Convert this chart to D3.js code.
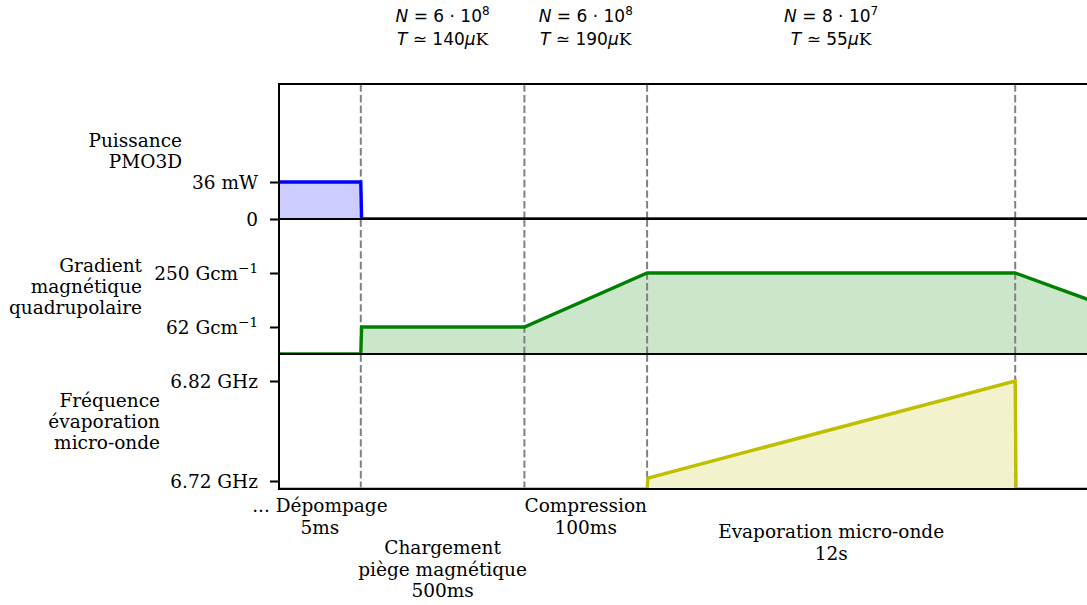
<!DOCTYPE html>
<html>
<head>
<meta charset="utf-8">
<script src="https://cdn.jsdelivr.net/npm/d3@7"></script>
<style>
  body { margin: 0; background: #fff; }
  svg { display: block; }
  .serif { font-family: "DejaVu Serif", serif; font-size: 18.5px; fill: #000; }
  .math { font-family: "DejaVu Sans", sans-serif; font-size: 17px; fill: #000; }
</style>
</head>
<body>
<svg id="chart" width="1087" height="605"></svg>
<script>
// Sequence timing diagram (schematic time axis, one unit per phase slot)

// phase boundaries, drawn as dashed lines
var phaseBounds = [1, 3, 4.5, 9];

// phase names under the plot, and their centre on the time axis
var phaseNames = [
  ["... Dépompage", "5ms"],
  ["Chargement", "piège magnétique", "500ms"],
  ["Compression", "100ms"],
  ["Evaporation micro-onde", "12s"]
];
var phaseCenters = [0.5, 2, 3.75, 6.75];

// atom number and temperature reached at the end of some phases
var atomPhase = [1, 2, 3];
var atomMantissa = ["6", "6", "8"];
var atomExponent = ["8", "8", "7"];
var atomTemp = ["140", "190", "55"];

// 3D-MOT power (1 = 36 mW)
var powerTime = [0, 1, 1.01, 10];
var powerValue = [1, 1, 0, 0];
var powerTicks = [0, 1];
var powerTickLabels = ["0", "36 mW"];

// quadrupole gradient (1 = 62 G/cm, 3 = 250 G/cm)
var gradientTime = [0, 1, 1.01, 3, 4.5, 9, 10];
var gradientValue = [0, 0, 1, 1, 3, 3, 1.9];
var gradientTicks = [1, 3];
var gradientTickLabels = ["62 Gcm", "250 Gcm"];

// microwave evaporation frequency, GHz
var freqTime = [0, 4.5, 4.51, 9, 9.01, 10];
var freqValue = [6.712, 6.712, 6.723, 6.82, 6.712, 6.712];
var freqTicks = [6.72, 6.82];
var freqTickLabels = ["6.72 GHz", "6.82 GHz"];

var svg = d3.select("#chart");

var left = 279, right = 1097, panelH = 135;

var x = d3.scaleLinear().domain([0, 10]).range([left, right]);

var panels = [
  { top: 84, domain: [0, 3.65], time: powerTime, value: powerValue,
    ticks: powerTicks, labels: powerTickLabels, sup: false,
    color: "#0000ff", fill: "#ccccff",
    title: ["Puissance", "PMO3D"], titleX: 182 },
  { top: 219, domain: [0, 5], time: gradientTime, value: gradientValue,
    ticks: gradientTicks, labels: gradientTickLabels, sup: true,
    color: "#008000", fill: "#cce6cc",
    title: ["Gradient", "magnétique", "quadrupolaire"], titleX: 142 },
  { top: 354, domain: [6.712, 6.847], time: freqTime, value: freqValue,
    ticks: freqTicks, labels: freqTickLabels, sup: false,
    color: "#bfbf00", fill: "#f2f2cc",
    title: ["Fréquence", "évaporation", "micro-onde"], titleX: 160 }
];

panels.forEach(function(p, i) {
  var y = d3.scaleLinear().domain(p.domain).range([p.top + panelH, p.top]);
  var pts = p.time.map(function(t, k) { return [t, p.value[k]]; });

  svg.append("clipPath").attr("id", "clip" + i)
    .append("rect")
    .attr("x", left).attr("y", p.top)
    .attr("width", right - left).attr("height", panelH);

  var g = svg.append("g").attr("clip-path", "url(#clip" + i + ")");

  var area = d3.area()
    .x(function(d) { return x(d[0]); })
    .y0(y(p.domain[0]))
    .y1(function(d) { return y(d[1]); });
  var line = d3.line()
    .x(function(d) { return x(d[0]); })
    .y(function(d) { return y(d[1]); });

  g.append("path").datum(pts)
    .attr("d", area)
    .attr("fill", p.fill);

  // phase separators
  g.selectAll("line.sep")
    .data(phaseBounds)
    .enter().append("line")
    .attr("class", "sep")
    .attr("x1", function(d) { return x(d); })
    .attr("x2", function(d) { return x(d); })
    .attr("y1", p.top + panelH)
    .attr("y2", p.top)
    .attr("stroke", "#808080")
    .attr("stroke-width", 2)
    .attr("stroke-dasharray", "7.4,3.2");

  g.append("path").datum(pts)
    .attr("d", line)
    .attr("fill", "none")
    .attr("stroke", p.color)
    .attr("stroke-width", 3.4)
    .attr("stroke-linejoin", "miter");

  // y axis with custom labels
  var axis = d3.axisLeft(y)
    .tickValues(p.ticks)
    .tickSize(9)
    .tickPadding(12)
    .tickFormat("");
  var ax = svg.append("g")
    .attr("transform", "translate(" + left + ",0)")
    .call(axis);
  ax.select(".domain").remove();
  ax.selectAll(".tick line").attr("stroke", "#000").attr("stroke-width", 2);
  ax.selectAll(".tick text").each(function(d, k) {
    var t = d3.select(this)
      .attr("class", "serif")
      .attr("font-family", null)
      .attr("font-size", null)
      .attr("dy", "0.34em")
      .text(p.labels[k]);
    if (p.sup) {
      t.append("tspan")
        .attr("dy", "-0.5em")
        .style("font-size", "13.5px")
        .text("\u22121");
    }
  });

  // spines
  svg.append("rect")
    .attr("x", left).attr("y", p.top)
    .attr("width", right - left).attr("height", panelH)
    .attr("fill", "none")
    .attr("stroke", "#000")
    .attr("stroke-width", 2);

  // panel title
  var n = p.title.length;
  var title = svg.append("text")
    .attr("class", "serif")
    .attr("text-anchor", "end")
    .attr("x", p.titleX)
    .attr("y", p.top + panelH / 2 - (n - 1) * 10.5 + 6);
  title.selectAll("tspan")
    .data(p.title)
    .enter().append("tspan")
    .attr("x", p.titleX)
    .attr("dy", function(d, k) { return k ? 21 : 0; })
    .text(function(d) { return d; });
});

// phase names under the plot, second one staggered below
var nameTop = [506, 548, 506, 532];
phaseNames.forEach(function(lines, i) {
  var t = svg.append("text")
    .attr("class", "serif")
    .attr("text-anchor", "middle")
    .attr("y", nameTop[i] + 6);
  t.selectAll("tspan")
    .data(lines)
    .enter().append("tspan")
    .attr("x", x(phaseCenters[i]))
    .attr("dy", function(d, k) { return k ? 21.5 : 0; })
    .text(function(d) { return d; });
});

// N and T annotations above the plot
atomPhase.forEach(function(ph, i) {
  var cx = x(phaseCenters[ph]);
  var t1 = svg.append("text").attr("class", "math")
    .attr("text-anchor", "middle").attr("x", cx).attr("y", 22);
  t1.append("tspan").style("font-style", "italic").text("N");
  t1.append("tspan").text(" = " + atomMantissa[i] + " \u00b7 10");
  t1.append("tspan").attr("dy", -7).style("font-size", "12px").text(atomExponent[i]);

  var t2 = svg.append("text").attr("class", "math")
    .attr("text-anchor", "middle").attr("x", cx).attr("y", 45);
  t2.append("tspan").style("font-style", "italic").text("T");
  t2.append("tspan").text(" \u2243 " + atomTemp[i]);
  t2.append("tspan").style("font-style", "italic").text("\u03bc");
  t2.append("tspan").style("font-family", "'DejaVu Serif', serif").text("K");
});
</script>
</body>
</html>
